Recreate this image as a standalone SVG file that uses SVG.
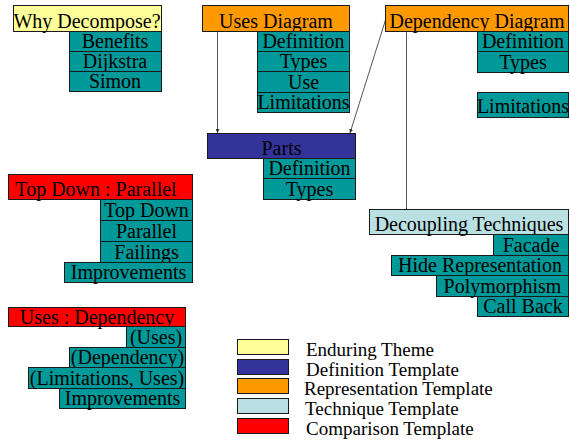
<svg xmlns="http://www.w3.org/2000/svg" width="570" height="442" viewBox="0 0 570 442" font-family="'Liberation Serif', 'DejaVu Serif', serif">
  <style>
    rect { stroke: #1a1a1a; stroke-width: 1; }
    text { font-family: 'Liberation Serif', 'DejaVu Serif', serif; font-size: 20px; fill: #000; }
    .c { text-anchor: middle; }
    .key { font-size: 19px; }
    .theme { fill: #FFFF99; }
    .defn { fill: #333399; }
    .repr { fill: #FF9900; }
    .tech { fill: #BBE0E3; }
    .comp { fill: #FF0000; }
    .item { fill: #009999; }
    .link { stroke: #555; stroke-width: 1; fill: none; }
  </style>
  <defs>
    <marker id="tip" viewBox="0 0 6 6" refX="6" refY="3" markerWidth="4" markerHeight="4" orient="auto">
      <path d="M0,0 L6,3 L0,6 z" fill="#333"/>
    </marker>
  </defs>

  <!-- connectors -->
  <g id="connectors">
    <line class="link" x1="217.5" y1="31" x2="217.5" y2="133" marker-end="url(#tip)"/>
    <line class="link" x1="385.5" y1="20" x2="350" y2="133" marker-end="url(#tip)"/>
    <line class="link" x1="406.5" y1="31" x2="406.5" y2="209"/>
  </g>

  <g id="why-decompose">
    <rect class="theme" x="13.5" y="5.5" width="148" height="26"/>
    <text class="c" x="87" y="28">Why Decompose?</text>
    <rect class="item" x="69.5" y="31.5" width="92" height="20"/>
    <text class="c" x="115" y="48">Benefits</text>
    <rect class="item" x="69.5" y="51.5" width="92" height="20"/>
    <text class="c" x="115" y="68">Dijkstra</text>
    <rect class="item" x="69.5" y="71.5" width="92" height="20"/>
    <text class="c" x="115" y="88">Simon</text>
  </g>

  <g id="uses-diagram">
    <rect class="repr" x="202.5" y="5.5" width="147" height="26"/>
    <text class="c" x="276" y="28">Uses Diagram</text>
    <rect class="item" x="257.5" y="31.5" width="92" height="20"/>
    <text class="c" x="303.5" y="48">Definition</text>
    <rect class="item" x="257.5" y="51.5" width="92" height="20"/>
    <text class="c" x="303.5" y="68">Types</text>
    <rect class="item" x="257.5" y="71.5" width="92" height="21"/>
    <text class="c" x="303.5" y="89">Use</text>
    <rect class="item" x="257.5" y="92.5" width="92" height="20"/>
    <text class="c" x="303.5" y="109">Limitations</text>
  </g>

  <g id="dependency-diagram">
    <rect class="repr" x="385.5" y="5.5" width="183" height="26"/>
    <text class="c" x="477" y="28">Dependency Diagram</text>
    <rect class="item" x="477.5" y="31.5" width="91" height="20"/>
    <text class="c" x="523" y="48">Definition</text>
    <rect class="item" x="477.5" y="51.5" width="91" height="21"/>
    <text class="c" x="523" y="69">Types</text>
    <rect class="item" x="477.5" y="92.5" width="91" height="25"/>
    <text class="c" x="523" y="113">Limitations</text>
  </g>

  <g id="parts">
    <rect class="defn" x="207.5" y="133.5" width="148" height="25"/>
    <text class="c" x="281.5" y="155">Parts</text>
    <rect class="item" x="263.5" y="158.5" width="92" height="20"/>
    <text class="c" x="309.5" y="175">Definition</text>
    <rect class="item" x="263.5" y="178.5" width="92" height="21"/>
    <text class="c" x="309.5" y="196">Types</text>
  </g>

  <g id="top-down-parallel">
    <rect class="comp" x="8.5" y="174.5" width="184" height="25"/>
    <text class="c" x="96" y="196">Top Down : Parallel</text>
    <rect class="item" x="100.5" y="199.5" width="92" height="21"/>
    <text class="c" x="146.5" y="217">Top Down</text>
    <rect class="item" x="100.5" y="220.5" width="92" height="21"/>
    <text class="c" x="146.5" y="238">Parallel</text>
    <rect class="item" x="100.5" y="241.5" width="92" height="21"/>
    <text class="c" x="146.5" y="259">Failings</text>
    <rect class="item" x="64.5" y="262.5" width="128" height="20"/>
    <text class="c" x="128.5" y="279">Improvements</text>
  </g>

  <g id="decoupling-techniques">
    <rect class="tech" x="369.5" y="209.5" width="199" height="25"/>
    <text class="c" x="469" y="231">Decoupling Techniques</text>
    <rect class="item" x="493.5" y="234.5" width="75" height="21"/>
    <text class="c" x="531" y="252">Facade</text>
    <rect class="item" x="391.5" y="255.5" width="177" height="20"/>
    <text class="c" x="480" y="272">Hide Representation</text>
    <rect class="item" x="436.5" y="275.5" width="132" height="21"/>
    <text class="c" x="502.5" y="293">Polymorphism</text>
    <rect class="item" x="477.5" y="296.5" width="91" height="20"/>
    <text class="c" x="523" y="313">Call Back</text>
  </g>

  <g id="uses-dependency">
    <rect class="comp" x="8.5" y="307.5" width="177" height="19"/>
    <text class="c" x="97" y="324">Uses : Dependency</text>
    <rect class="item" x="126.5" y="326.5" width="59" height="21"/>
    <text class="c" x="156" y="344">(Uses)</text>
    <rect class="item" x="69.5" y="347.5" width="116" height="20"/>
    <text class="c" x="127.5" y="364">(Dependency)</text>
    <rect class="item" x="28.5" y="367.5" width="157" height="21"/>
    <text class="c" x="107" y="385">(Limitations, Uses)</text>
    <rect class="item" x="59.5" y="388.5" width="126" height="20"/>
    <text class="c" x="122.5" y="405">Improvements</text>
  </g>

  <g id="legend">
    <rect class="theme" x="237.5" y="339.5" width="51" height="15"/>
    <text class="key" x="306" y="356">Enduring Theme</text>
    <rect class="defn" x="237.5" y="359.5" width="51" height="15"/>
    <text class="key" x="306" y="376">Definition Template</text>
    <rect class="repr" x="237.5" y="378.5" width="51" height="15"/>
    <text class="key" x="304" y="395">Representation Template</text>
    <rect class="tech" x="237.5" y="398.5" width="51" height="15"/>
    <text class="key" x="305" y="415">Technique Template</text>
    <rect class="comp" x="237.5" y="418.5" width="51" height="15"/>
    <text class="key" x="306" y="435">Comparison Template</text>
  </g>
</svg>
